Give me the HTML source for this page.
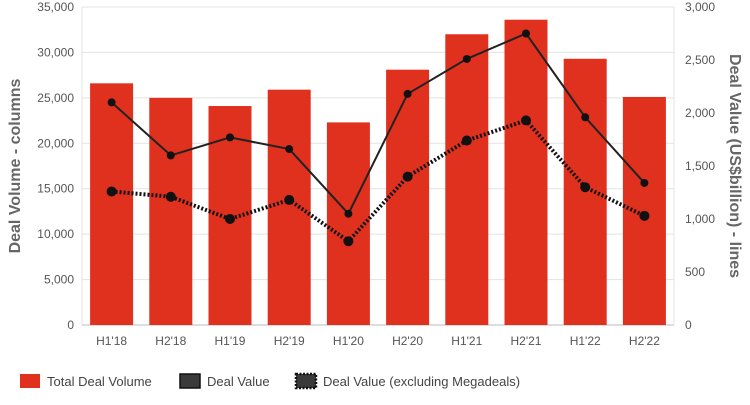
<!DOCTYPE html>
<html><head><meta charset="utf-8"><style>
body{margin:0;background:#fff;font-family:"Liberation Sans",sans-serif}
svg text{font-family:"Liberation Sans",sans-serif}
</style></head><body>
<svg id="c" width="750" height="400"></svg>
<script>
const categories=["H1'18","H2'18","H1'19","H2'19","H1'20","H2'20","H1'21","H2'21","H1'22","H2'22"];
const volume=[26600,25000,24100,25900,22300,28100,32000,33600,29300,25100];
const dealValue=[2100,1600,1770,1660,1050,2180,2510,2750,1960,1340];
const dealValueExMega=[1260,1210,1000,1180,790,1400,1740,1930,1300,1030];
const leftTicks=[0,5000,10000,15000,20000,25000,30000,35000];
const rightTicks=[0,500,1000,1500,2000,2500,3000];
const NS="http://www.w3.org/2000/svg";
const svg=document.getElementById('c');
const X0=82,X1=674,Y0=325,Y1=7;
const bw=(X1-X0)/categories.length;
const xc=i=>X0+bw*(i+0.5);
const yl=v=>Y0-(v/35000)*(Y0-Y1);
const yr=v=>Y0-(v/3000)*(Y0-Y1);
function el(t,a,txt){const e=document.createElementNS(NS,t);for(const k in a)e.setAttribute(k,a[k]);if(txt!=null)e.textContent=txt;svg.appendChild(e);return e;}
const fmt=v=>v.toLocaleString('en-US');
leftTicks.forEach(v=>{
 const g=el('line',{x1:X0,x2:X1,y1:yl(v),y2:yl(v),stroke:v===0?'#bbb':'#e3e3e3','stroke-width':1});
 
 const t=el('text',{x:74,y:yl(v)+4,'text-anchor':'end','font-size':12,fill:'#555'},fmt(v));
 
});
rightTicks.forEach(v=>{
 const t=el('text',{x:685,y:yr(v)+4,'font-size':12,fill:'#555'},fmt(v));
 
});
el('line',{x1:X0,x2:X0,y1:Y1,y2:Y0,stroke:'#e3e3e3'});
el('line',{x1:X1,x2:X1,y1:Y1,y2:Y0,stroke:'#e3e3e3'});
volume.forEach((v,i)=>{
 const r=el('rect',{x:xc(i)-21.5,y:yl(v),width:43,height:Y0-yl(v),fill:'#e0301e'});
 
 const t=el('text',{x:xc(i),y:345,'text-anchor':'middle','font-size':12,fill:'#555'},categories[i]);
 
});
const p1=el('polyline',{points:dealValue.map((v,i)=>xc(i)+','+yr(v)).join(' '),fill:'none',stroke:'#222','stroke-width':2});

const p2=el('polyline',{points:dealValueExMega.map((v,i)=>xc(i)+','+yr(v)).join(' '),fill:'none',stroke:'#111','stroke-width':4,'stroke-dasharray':'2 2'});

dealValue.forEach((v,i)=>{const c=el('circle',{cx:xc(i),cy:yr(v),r:4,fill:'#111'});});
dealValueExMega.forEach((v,i)=>{const c=el('circle',{cx:xc(i),cy:yr(v),r:5,fill:'#111'});});
const ya=el('text',{transform:'translate(20,166) rotate(-90)','text-anchor':'middle','font-size':16,'font-weight':'bold',fill:'#666'},'Deal Volume - columns');

const yb=el('text',{transform:'translate(730,166) rotate(90)','text-anchor':'middle','font-size':16,'font-weight':'bold',fill:'#666'},'Deal Value (US$billion) - lines');

// legend
const l1=el('rect',{x:20,y:374,width:20,height:14,fill:'#e0301e'});
const t1=el('text',{x:47,y:386,'font-size':13,fill:'#444'},'Total Deal Volume');
const l2=el('rect',{x:180,y:374,width:20,height:14,fill:'#3a3a3a',stroke:'#111','stroke-width':1.5});
const t2=el('text',{x:207,y:386,'font-size':13,fill:'#444'},'Deal Value');
const l3=el('rect',{x:296,y:374,width:20,height:14,fill:'#3a3a3a',stroke:'#111','stroke-width':2.5,'stroke-dasharray':'2 1.5'});
const t3=el('text',{x:323,y:386,'font-size':13,fill:'#444'},'Deal Value (excluding Megadeals)');
</script>
</body></html>
